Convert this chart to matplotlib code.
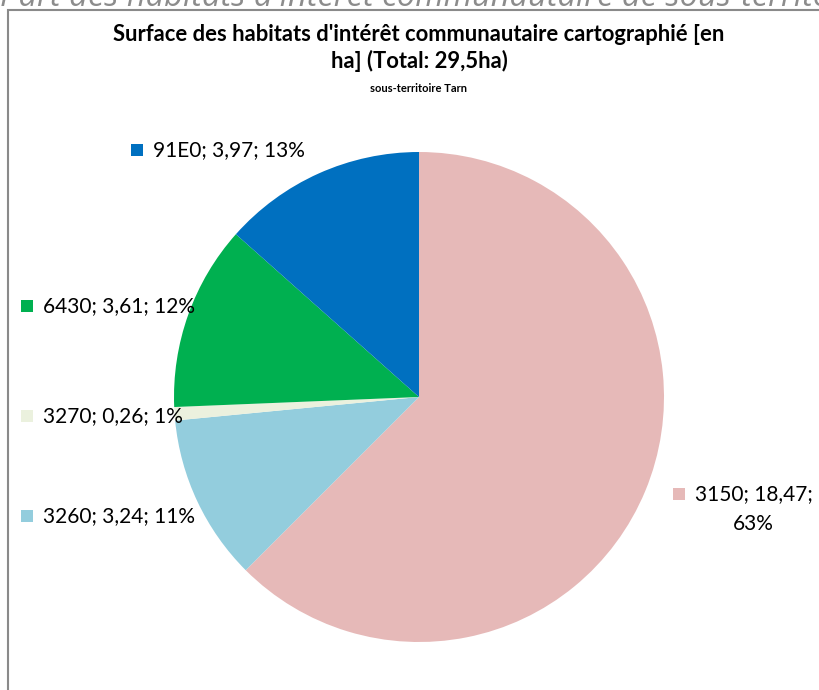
import matplotlib
matplotlib.use("Agg")
import matplotlib.pyplot as plt
from matplotlib.patches import Rectangle

# Habitat surfaces (ha) for the Tarn sub-territory
codes = ["3150", "3260", "3270", "6430", "91E0"]
surfaces = [18.47, 3.24, 0.26, 3.61, 3.97]
percents = ["63%", "11%", "1%", "12%", "13%"]
colors = ["#E6B9B8", "#93CDDD", "#EBF1DE", "#00B050", "#0070C0"]

title_l1 = "Surface des habitats d'intérêt communautaire cartographié [en"
title_l2 = "ha] (Total: 29,5ha)"
subtitle = "sous-territoire Tarn"
header = "Part des habitats d'intérêt communautaire de sous-territoire Tarn"

W, H = 819, 690
fig = plt.figure(figsize=(W / 100, H / 100), dpi=100)

def py(y):
    return H - y

fam = ["Lato", "DejaVu Sans"]

# Header line of the page, cut by the top edge (figure pixel coordinates)
fig.text(0 / W, py(5.5) / H, header, fontsize=23.5, style="italic", color="#8C8C8C",
         family=["Open Sans", "DejaVu Sans"], ha="left", va="baseline")

ax = fig.add_axes([0, 0, 1, 1])

# Pie
ax.pie(surfaces, colors=colors, startangle=90, counterclock=False,
       center=(419, py(397)), radius=245, frame=True,
       wedgeprops=dict(linewidth=0))
ax.set_xlim(0, W)
ax.set_ylim(0, H)
ax.set_aspect("equal")
ax.axis("off")

# Chart frame
ax.add_patch(Rectangle((8, py(H + 10)), W + 20, H + 0.5, facecolor="white",
                       edgecolor="#8A8A8A", lw=1.5, zorder=0))

# Titles
ax.text(419, py(41), title_l1, fontsize=15.8, fontweight="bold", family=fam,
        ha="center", va="baseline")
ax.text(419, py(67.5), title_l2, fontsize=15.8, fontweight="bold", family=fam,
        ha="center", va="baseline")
ax.text(419, py(92), subtitle, fontsize=8, fontweight="bold", family=fam,
        ha="center", va="baseline")

# Data labels with colour keys
label_pos = {
    "91E0": (137, 150),
    "6430": (27, 306),
    "3270": (27, 416),
    "3260": (27, 516),
}
for code, val, pct, col in zip(codes, surfaces, percents, colors):
    head = f"{code}; " + f"{val:.2f}".replace(".", ",")
    if code in label_pos:
        x, y = label_pos[code]
        ax.add_patch(Rectangle((x - 6, py(y) - 6), 12, 12, facecolor=col, edgecolor="none"))
        ax.text(x + 16, py(y), f"{head}; {pct}", fontsize=15, family=fam,
                ha="left", va="center")
    else:
        x, y = 679, 494
        ax.add_patch(Rectangle((x - 6, py(y) - 6), 12, 12, facecolor=col, edgecolor="none"))
        ax.text(x + 16, py(y), f"{head};", fontsize=15, family=fam,
                ha="left", va="center")
        ax.text(753, py(524), pct, fontsize=15, family=fam, ha="center", va="center")

fig.savefig("out.png", dpi=100)
